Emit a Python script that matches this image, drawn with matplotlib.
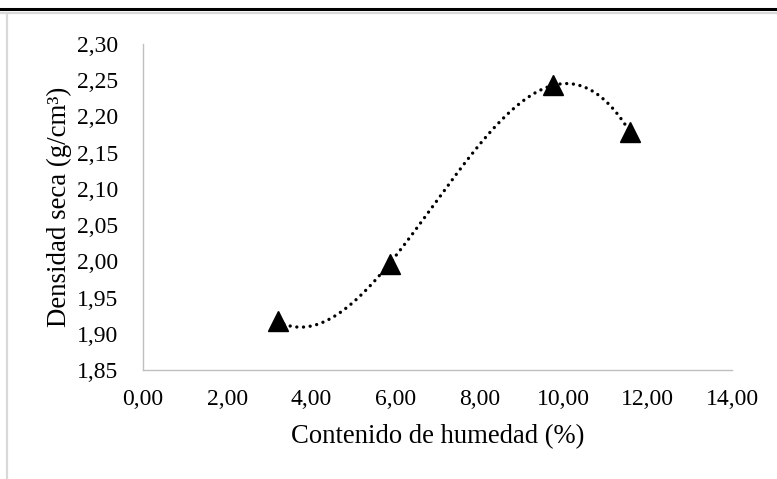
import matplotlib.pyplot as plt
import matplotlib.ticker as mticker
from matplotlib.lines import Line2D
import numpy as np

# data
humedad = [3.20, 5.86, 9.75, 11.58]
densidad = [1.917, 1.997, 2.243, 2.178]
x_ticks = [0, 2, 4, 6, 8, 10, 12, 14]
y_ticks = [1.85, 1.90, 1.95, 2.00, 2.05, 2.10, 2.15, 2.20, 2.25, 2.30]

plt.rcParams['font.family'] = ['Liberation Serif', 'DejaVu Serif']

fig = plt.figure(figsize=(7.77, 4.79), dpi=100)
ax = fig.add_axes([143 / 777, 1 - 370 / 479, 589 / 777, 326 / 479])

# polynomial trendline (order 3), like the spreadsheet one
coef = np.polyfit(humedad, densidad, 3)
xs = np.linspace(min(humedad), max(humedad), 300)
ax.plot(xs, np.polyval(coef, xs), color='black', lw=2.4,
        dashes=(0.01, 2.0), dash_capstyle='round', zorder=2)
ax.plot(humedad, densidad, linestyle='none', marker='^', ms=14,
        color='black', zorder=3)

ax.set_xlim(0, 14)
ax.set_ylim(1.85, 2.30)
ax.set_xticks(x_ticks)
ax.set_yticks(y_ticks)
fmt = mticker.FuncFormatter(lambda v, p: f"{v:.2f}".replace('.', ','))
ax.xaxis.set_major_formatter(fmt)
ax.yaxis.set_major_formatter(fmt)
ax.tick_params(length=0, labelsize=17, colors='black')
ax.tick_params(axis='y', pad=18)
ax.tick_params(axis='x', pad=14)

for s in ['top', 'right']:
    ax.spines[s].set_visible(False)
for s in ['left', 'bottom']:
    ax.spines[s].set_color('#BFBFBF')
    ax.spines[s].set_linewidth(1.0)

ax.set_xlabel('Contenido de humedad (%)', fontsize=19.2)
ax.set_ylabel('Densidad seca (g/cm³)', fontsize=19.4)
ax.xaxis.set_label_coords(0.5, -0.166)
ax.yaxis.set_label_coords(-0.121, 0.5)

# frame lines around the chart area
fig.add_artist(Line2D([0, 1], [1 - 8.5 / 479] * 2, color='black', lw=2.2,
                      transform=fig.transFigure))
fig.add_artist(Line2D([0, 1], [1 - 13 / 479] * 2, color='#D9D9D9', lw=1.6,
                      transform=fig.transFigure))
fig.add_artist(Line2D([7 / 777] * 2, [0, 1 - 13 / 479], color='#D9D9D9', lw=1.6,
                      transform=fig.transFigure))

fig.savefig('out.png', dpi=100)
